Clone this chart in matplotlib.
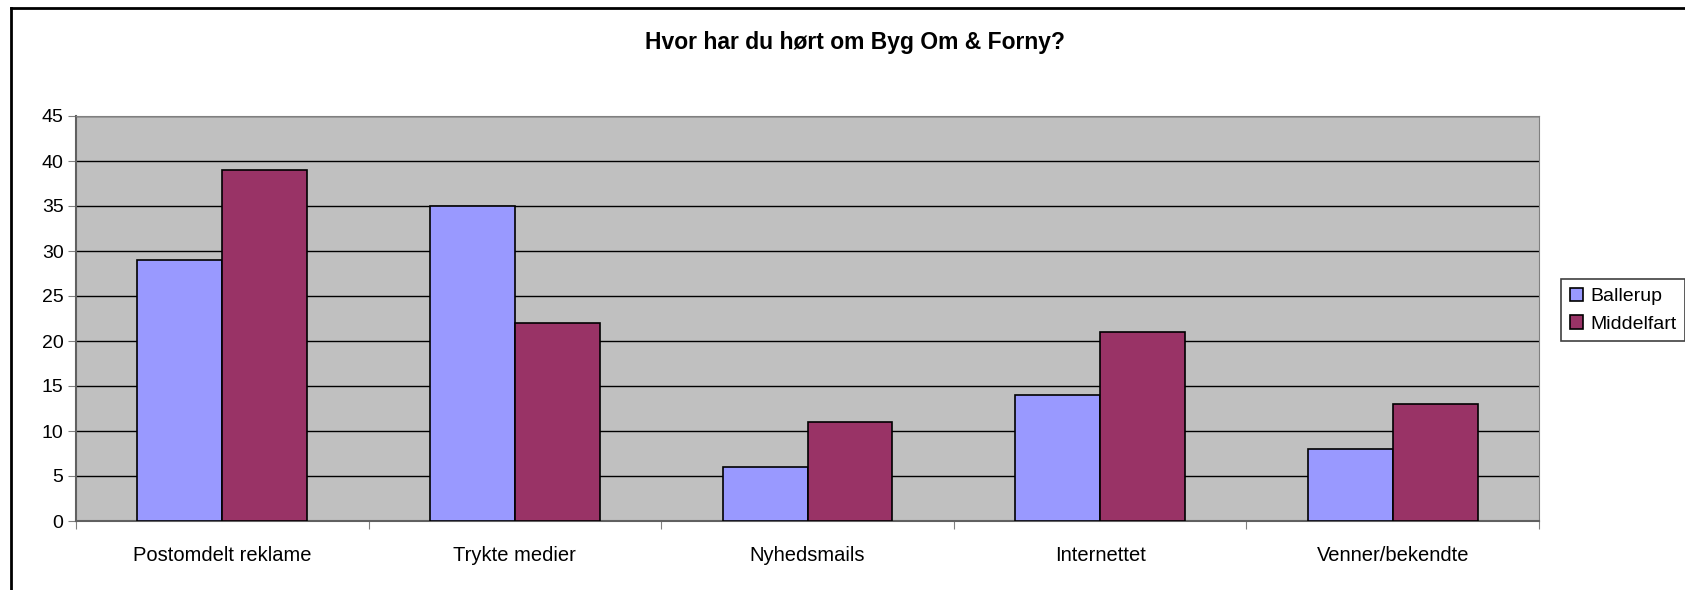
import matplotlib
matplotlib.use("Agg")
import matplotlib.pyplot as plt
import numpy as np
from matplotlib.lines import Line2D
from matplotlib.patches import Patch

categories = ["Postomdelt reklame", "Trykte medier", "Nyhedsmails", "Internettet", "Venner/bekendte"]
ballerup = [29, 35, 6, 14, 8]
middelfart = [39, 22, 11, 21, 13]
series_names = ["Ballerup", "Middelfart"]
title = "Hvor har du hørt om Byg Om & Forny?"

plt.rcParams["font.family"] = ["Liberation Sans", "DejaVu Sans"]

W, H = 1685, 590
fig = plt.figure(figsize=(W / 100, H / 100), dpi=100)
ax = fig.add_axes([76 / W, 1 - 521 / H, (1539 - 76) / W, (521 - 116) / H])

x = np.arange(len(categories))
bw = 0.29
ax.set_facecolor("#C0C0C0")
ax.bar(x - bw / 2, ballerup, bw, color="#9999FF", edgecolor="black", lw=1.2, zorder=3)
ax.bar(x + bw / 2, middelfart, bw, color="#993366", edgecolor="black", lw=1.2, zorder=3)

ax.set_xlim(-0.5, len(categories) - 0.5)
ax.set_ylim(0, 45)
ax.set_yticks(np.arange(0, 46, 5))
ax.yaxis.grid(True, color="black", lw=1, zorder=1)
ax.set_axisbelow(True)

# category boundaries get the tick marks, labels sit in between
ax.set_xticks(np.arange(-0.5, len(categories), 1.0))
ax.set_xticklabels([])
ax.set_xticks(x, minor=True)
ax.set_xticklabels(categories, minor=True)
ax.tick_params(axis="x", which="major", length=6, color="#808080")
ax.tick_params(axis="x", which="minor", length=0, pad=18, labelsize=14.5)
ax.tick_params(axis="y", length=6, color="#808080", labelsize=14, pad=3)

for side in ["top", "right"]:
    ax.spines[side].set_color("#808080")
for side in ["left", "bottom"]:
    ax.spines[side].set_color("#606060")
    ax.spines[side].set_linewidth(1.5)

fig.text(855 / W, 1 - 43 / H, title, ha="center", va="center", fontsize=16.5, fontweight="bold")

handles = [Patch(facecolor="#9999FF", edgecolor="black", lw=1.2),
           Patch(facecolor="#993366", edgecolor="black", lw=1.2)]
leg = fig.legend(handles, series_names, loc="upper left",
                 bbox_to_anchor=(1561 / W, 1 - 279 / H), fontsize=14,
                 handlelength=0.7, handleheight=0.7, handletextpad=0.35,
                 borderpad=0.45, labelspacing=0.5, fancybox=False, framealpha=1,
                 borderaxespad=0)
leg.get_frame().set_edgecolor("#404040")
leg.get_frame().set_linewidth(1.2)

# outer chart border (right and bottom fall outside the image)
fig.add_artist(Line2D([11 / W, 11 / W], [0, 1 - 8 / H], color="black", lw=2, transform=fig.transFigure))
fig.add_artist(Line2D([11 / W, 1], [1 - 8 / H, 1 - 8 / H], color="black", lw=2, transform=fig.transFigure))

fig.savefig("out.png", dpi=100)
